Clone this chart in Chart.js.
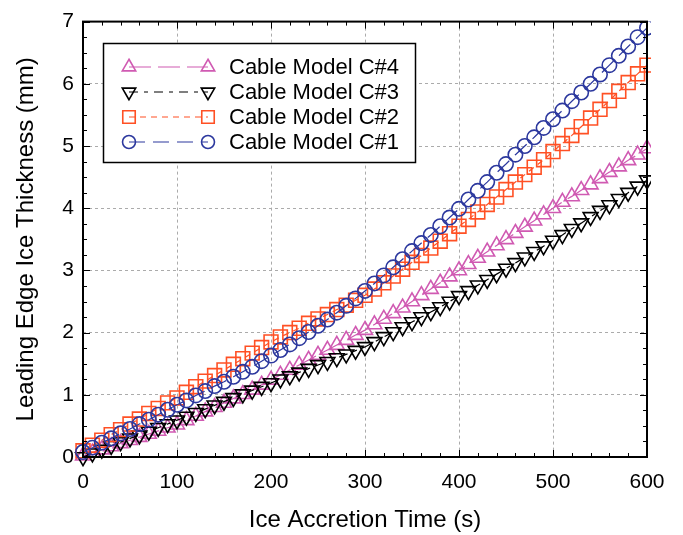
<!DOCTYPE html>
<html>
<head>
<meta charset="utf-8">
<script src="https://cdn.jsdelivr.net/npm/chart.js@4/dist/chart.umd.min.js"></script>
<style>
  html, body { margin: 0; padding: 0; background: #fff; }
</style>
</head>
<body>
<canvas id="chart" width="683" height="535"></canvas>
<script>
// ice accretion time (s)
const times = [
  0, 10, 20, 30, 40, 50, 60, 70, 80, 90,
  100, 110, 120, 130, 140, 150, 160, 170, 180, 190,
  200, 210, 220, 230, 240, 250, 260, 270, 280, 290,
  300, 310, 320, 330, 340, 350, 360, 370, 380, 390,
  400, 410, 420, 430, 440, 450, 460, 470, 480, 490,
  500, 510, 520, 530, 540, 550, 560, 570, 580, 590,
  600
];

// leading edge ice thickness (mm)
const modelC1 = [
  0.08, 0.15, 0.23, 0.30, 0.38, 0.45, 0.53, 0.60, 0.68, 0.76,
  0.84, 0.91, 0.99, 1.06, 1.14, 1.21, 1.29, 1.37, 1.45, 1.54,
  1.63, 1.72, 1.81, 1.91, 2.01, 2.11, 2.21, 2.32, 2.43, 2.55,
  2.67, 2.79, 2.92, 3.05, 3.18, 3.31, 3.44, 3.57, 3.71, 3.85,
  3.99, 4.14, 4.28, 4.42, 4.57, 4.71, 4.86, 5.00, 5.14, 5.29,
  5.43, 5.57, 5.72, 5.86, 6.00, 6.15, 6.30, 6.45, 6.60, 6.75,
  6.90
];
const modelC2 = [
  0.10, 0.19, 0.27, 0.36, 0.44, 0.53, 0.61, 0.70, 0.78, 0.87,
  0.95, 1.04, 1.13, 1.22, 1.31, 1.40, 1.49, 1.58, 1.67, 1.76,
  1.85, 1.93, 2.00, 2.07, 2.15, 2.22, 2.29, 2.37, 2.44, 2.52,
  2.60, 2.70, 2.80, 2.91, 3.02, 3.13, 3.24, 3.36, 3.47, 3.59,
  3.71, 3.82, 3.94, 4.06, 4.18, 4.30, 4.42, 4.54, 4.66, 4.78,
  4.91, 5.04, 5.17, 5.31, 5.45, 5.59, 5.73, 5.88, 6.02, 6.16,
  6.30
];
const modelC3 = [
  0.00, 0.06, 0.12, 0.18, 0.24, 0.30, 0.35, 0.41, 0.47, 0.53,
  0.59, 0.65, 0.71, 0.77, 0.83, 0.89, 0.95, 1.01, 1.07, 1.13,
  1.19, 1.25, 1.30, 1.36, 1.42, 1.48, 1.53, 1.59, 1.65, 1.71,
  1.77, 1.85, 1.93, 2.01, 2.09, 2.17, 2.25, 2.33, 2.41, 2.50,
  2.59, 2.67, 2.76, 2.85, 2.94, 3.03, 3.12, 3.21, 3.30, 3.39,
  3.48, 3.57, 3.67, 3.76, 3.86, 3.96, 4.05, 4.15, 4.25, 4.35,
  4.45
];
const modelC4 = [
  0.02, 0.07, 0.12, 0.17, 0.22, 0.27, 0.32, 0.37, 0.42, 0.47,
  0.52, 0.59, 0.66, 0.73, 0.80, 0.87, 0.94, 1.01, 1.08, 1.16,
  1.24, 1.32, 1.40, 1.48, 1.56, 1.64, 1.72, 1.80, 1.88, 1.96,
  2.04, 2.13, 2.22, 2.31, 2.40, 2.50, 2.60, 2.70, 2.80, 2.90,
  3.00, 3.10, 3.20, 3.30, 3.40, 3.50, 3.60, 3.70, 3.80, 3.90,
  4.00, 4.10, 4.19, 4.29, 4.38, 4.48, 4.58, 4.67, 4.77, 4.86,
  4.96
];

const xTicks = [0, 100, 200, 300, 400, 500, 600];
const yTicks = [0, 1, 2, 3, 4, 5, 6, 7];

const FONT = "'Liberation Sans', Arial, sans-serif";
const PINK = '#d05ab2';
const ORANGE = '#ff5024';
const BLUE = '#2c389e';

const toPoints = (vals) => times.map((t, i) => ({ x: t, y: vals[i] }));

// drawn top to bottom in legend
const series = [
  { label: 'Cable Model C#4', data: modelC4, color: PINK, style: 'triangle', rotation: 0, radius: 8.6, dash: [22, 7] },
  { label: 'Cable Model C#3', data: modelC3, color: '#000', style: 'triangle', rotation: 180, radius: 8.6, dash: [9, 6, 4, 6] },
  { label: 'Cable Model C#2', data: modelC2, color: ORANGE, style: 'rect', rotation: 0, radius: 9.8, dash: [6, 5] },
  { label: 'Cable Model C#1', data: modelC1, color: BLUE, style: 'circle', rotation: 0, radius: 7.2, dash: [16, 8] },
];

// C#1 drawn last (on top)
const datasets = series.slice().reverse().map((s) => ({
  label: s.label,
  data: toPoints(s.data),
  borderColor: s.color,
  borderWidth: 1.2,
  borderDash: s.dash,
  pointStyle: s.style,
  pointRotation: s.rotation,
  pointRadius: s.radius,
  pointBorderWidth: 1.6,
  pointBorderColor: s.color,
  pointBackgroundColor: 'rgba(0,0,0,0)',
  fill: false,
  tension: 0,
  clip: { left: 10, top: 0, right: 4, bottom: 12 },
}));

const frame = {
  id: 'frame',
  afterDatasetsDraw(chart) {
    const { ctx, chartArea: a, scales: { x, y } } = chart;
    ctx.save();
    ctx.strokeStyle = '#000';
    ctx.lineWidth = 1;
    ctx.beginPath();
    for (let v = 0; v <= 600; v += 20) {
      const px = Math.round(x.getPixelForValue(v)) + 0.5;
      const len = v % 100 === 0 ? 7 : 4;
      ctx.moveTo(px, a.bottom); ctx.lineTo(px, a.bottom - len);
      ctx.moveTo(px, a.top); ctx.lineTo(px, a.top + len);
    }
    for (let v = 0; v <= 7; v += 0.25) {
      const py = Math.round(y.getPixelForValue(v)) + 0.5;
      const len = v % 1 === 0 ? 7 : 4;
      ctx.moveTo(a.left, py); ctx.lineTo(a.left + len, py);
      ctx.moveTo(a.right, py); ctx.lineTo(a.right - len, py);
    }
    ctx.stroke();
    ctx.lineWidth = 2;
    ctx.strokeRect(a.left, a.top, a.right - a.left, a.bottom - a.top);

    // legend
    const box = { x: 103.5, y: 43.5, w: 312, h: 119 };
    ctx.fillStyle = '#fff';
    ctx.fillRect(box.x, box.y, box.w, box.h);
    ctx.lineWidth = 1.5;
    ctx.strokeRect(box.x, box.y, box.w, box.h);
    ctx.font = '22px ' + FONT;
    ctx.textBaseline = 'middle';
    series.forEach((s, i) => {
      const cy = 67 + i * 25;
      const x0 = 129, x1 = 208;
      ctx.strokeStyle = s.color;
      ctx.lineWidth = 1.2;
      ctx.setLineDash(s.dash);
      ctx.beginPath();
      ctx.moveTo(x0, cy); ctx.lineTo(x1, cy);
      ctx.stroke();
      ctx.setLineDash([]);
      ctx.fillStyle = 'rgba(0,0,0,0)';
      ctx.lineWidth = 1.6;
      const opts = { pointStyle: s.style, rotation: s.rotation, radius: s.radius * 0.9, borderWidth: 1.6 };
      Chart.helpers.drawPoint(ctx, opts, x0, cy);
      Chart.helpers.drawPoint(ctx, opts, x1, cy);
      ctx.fillStyle = '#000';
      ctx.fillText(s.label, 229, cy + 1);
    });
    ctx.restore();
  },
};

new Chart(document.getElementById('chart'), {
  type: 'line',
  data: { datasets },
  options: {
    responsive: false,
    animation: false,
    devicePixelRatio: 1,
    layout: { padding: { left: 0, right: 36, top: 17, bottom: 0 } },
    plugins: { legend: { display: false }, tooltip: { enabled: false } },
    scales: {
      x: {
        type: 'linear',
        min: 0,
        max: 600,
        afterBuildTicks: (s) => { s.ticks = xTicks.map((v) => ({ value: v })); },
        afterFit: (s) => { s.height = 78; },
        grid: { color: '#ababab', lineWidth: 1, drawTicks: false },
        border: { display: false, dash: [3, 3] },
        ticks: { color: '#000', font: { family: FONT, size: 21 }, padding: 13, maxRotation: 0 },
        title: {
          display: true,
          text: 'Ice Accretion Time (s)',
          color: '#000',
          font: { family: FONT, size: 24 },
          padding: { top: 0, bottom: 0 },
        },
      },
      y: {
        type: 'linear',
        min: 0,
        max: 7,
        afterBuildTicks: (s) => { s.ticks = yTicks.map((v) => ({ value: v })); },
        afterFit: (s) => { s.width = 83; },
        grid: { color: '#ababab', lineWidth: 1, drawTicks: false },
        border: { display: false, dash: [3, 3] },
        ticks: { color: '#000', font: { family: FONT, size: 21 }, padding: 9 },
        title: {
          display: true,
          text: 'Leading Edge Ice Thickness (mm)',
          color: '#000',
          font: { family: FONT, size: 24 },
          padding: { top: 12, bottom: 0 },
        },
      },
    },
  },
  plugins: [frame],
});
</script>
</body>
</html>
